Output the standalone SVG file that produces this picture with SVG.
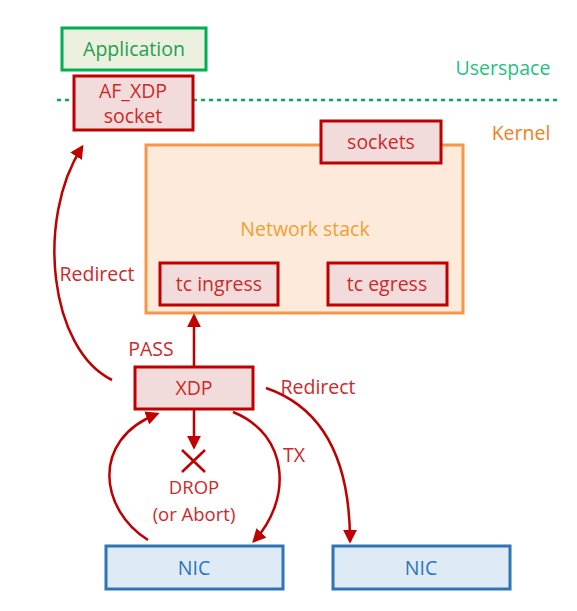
<svg xmlns="http://www.w3.org/2000/svg" width="577" height="611" viewBox="0 0 577 611">
<defs>
<style>
text{font-family:"Open Sans","Liberation Sans",sans-serif;font-size:19.5px;text-anchor:middle;dominant-baseline:central}
.red rect{fill:#f2dcdb;stroke:#c00000;stroke-width:3}
.red text,.lbl{fill:#cc2a2a}
.conn path{fill:none;stroke:#c00000;stroke-width:2.5}
.sm{font-size:18.5px}
</style>
<marker id="ah" viewBox="0 0 10 10" refX="8" refY="5" markerWidth="5.5" markerHeight="5.5" orient="auto" markerUnits="strokeWidth">
<path d="M0,0 L10,5 L0,10 z" fill="#c00000"/>
</marker>
</defs>
<rect width="577" height="611" fill="#fff"/>
<line x1="57" y1="100" x2="560" y2="100" stroke="#00b050" stroke-width="2.5" stroke-dasharray="4,4"/>
<text x="503" y="67" fill="#1fbf7f">Userspace</text>
<text x="521" y="132" fill="#f07f20">Kernel</text>
<g id="application"><rect x="62" y="28" width="144" height="42" fill="#ebf1de" stroke="#00b050" stroke-width="3"/><text x="134" y="48" fill="#1fa050">Application</text></g>
<g id="afxdp" class="red"><rect x="74" y="76" width="119" height="54"/><text x="133" y="90">AF_XDP</text><text x="133" y="115">socket</text></g>
<g id="netstack"><rect x="146" y="145" width="317" height="168" fill="#fdeada" stroke="#f79646" stroke-width="3"/><text x="305" y="228" fill="#f0a030">Network stack</text></g>
<g id="sockets" class="red"><rect x="321" y="121" width="120" height="42"/><text x="381" y="141">sockets</text></g>
<g id="tcingress" class="red"><rect x="160" y="263" width="118" height="42"/><text x="219" y="283">tc ingress</text></g>
<g id="tcegress" class="red"><rect x="328" y="263" width="119" height="42"/><text x="387" y="283">tc egress</text></g>
<g id="xdp" class="red"><rect x="135" y="367" width="118" height="42"/><text x="194" y="387">XDP</text></g>
<g id="nic1"><rect x="106" y="546" width="177" height="43" fill="#deebf7" stroke="#2e75b6" stroke-width="3"/><text x="194" y="567" fill="#2e75b6">NIC</text></g>
<g id="nic2"><rect x="333" y="546" width="177" height="43" fill="#deebf7" stroke="#2e75b6" stroke-width="3"/><text x="421" y="567" fill="#2e75b6">NIC</text></g>
<g id="connectors" class="conn">
<path d="M194,367 L194,316" marker-end="url(#ah)"/>
<path d="M112,380 C50,350 35,220 82,147" marker-end="url(#ah)"/>
<path d="M194,409 L194,447" marker-end="url(#ah)"/>
<path d="M148,540 C100,510 90,440 157,414" marker-end="url(#ah)"/>
<path d="M233,412 C290,435 292,500 254,541" marker-end="url(#ah)"/>
<path d="M266,388 C330,410 350,470 350,541" marker-end="url(#ah)"/>
<path d="M182,450 L205,472 M205,450 L182,472" stroke="#e03030" stroke-width="4"/>
</g>
<text class="lbl" x="151" y="348">PASS</text>
<text class="lbl" x="97" y="273">Redirect</text>
<text class="lbl" x="318" y="386">Redirect</text>
<text class="lbl" x="294" y="454">TX</text>
<text class="lbl sm" x="194" y="486">DROP</text>
<text class="lbl sm" x="194" y="513">(or Abort)</text>
</svg>
